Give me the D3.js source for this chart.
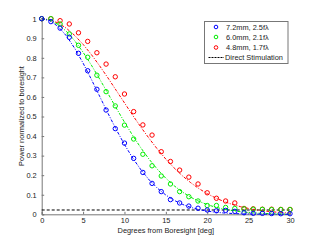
<!DOCTYPE html>
<html><head><meta charset="utf-8">
<script src="https://cdn.jsdelivr.net/npm/d3@7"></script>
<style>body{margin:0;background:#fff}svg{display:block}text{font-family:"Liberation Sans",Arial,sans-serif;font-size:7.4px;fill:#222}</style>
</head><body><svg id="c" width="321" height="241"></svg>
<script>
// measured angles (deg): 28 samples
const angles = [0,1.111,2.222,3.333,4.444,5.556,6.667,7.778,8.889,10,11.111,12.222,13.333,14.444,15.556,16.667,17.778,18.889,20,21.111,22.222,23.333,24.444,25.556,26.667,27.778,28.889,30];
const blue72 = [1.0,0.985,0.952,0.905,0.823,0.734,0.639,0.533,0.438,0.364,0.286,0.214,0.158,0.116,0.075,0.058,0.042,0.031,0.022,0.018,0.020,0.015,0.008,0.005,0.005,0.004,0.003,0.003];
const green60 = [1.0,1.0,0.973,0.922,0.864,0.803,0.711,0.627,0.554,0.456,0.385,0.307,0.248,0.196,0.155,0.116,0.090,0.068,0.045,0.045,0.035,0.030,0.028,0.026,0.025,0.024,0.024,0.024];
const red48 = [1.0,1.0,0.990,0.973,0.928,0.884,0.826,0.768,0.703,0.615,0.525,0.457,0.405,0.320,0.270,0.226,0.190,0.155,0.110,0.082,0.068,0.058,0.030,0.028,0.026,0.026,0.025,0.025];
// fitted curves, read at whole degrees 0..30
const fitDeg = [0,1,2,3,4,5,6,7,8,9,10,11,12,13,14,15,16,17,18,19,20,21,22,23,24,25,26,27,28,29,30];
const fitBlue = [1,0.9897,0.9596,0.9115,0.8479,0.7729,0.6899,0.6034,0.5170,0.4340,0.3567,0.2873,0.2269,0.1753,0.1326,0.0984,0.0714,0.0508,0.0354,0.0242,0.0162,0.0106,0.0068,0.0043,0.0026,0.0016,0.0010,0.0005,0.0003,0.0002,0.0001];
const fitGreen = [1,0.9925,0.9704,0.9346,0.8867,0.8286,0.7628,0.6916,0.6180,0.5438,0.4714,0.4025,0.3385,0.2805,0.2290,0.1842,0.1460,0.1138,0.0874,0.0662,0.0494,0.0363,0.0263,0.0188,0.0132,0.0091,0.0062,0.0042,0.0028,0.0018,0.0012];
const fitRed = [1,0.9944,0.9778,0.9506,0.9140,0.8689,0.8168,0.7589,0.6976,0.6337,0.5698,0.5058,0.4448,0.3866,0.3320,0.2821,0.2370,0.1969,0.1617,0.1312,0.1054,0.0837,0.0657,0.0510,0.0392,0.0298,0.0223,0.0166,0.0122,0.0089,0.0063];
const directLevel = 0.022;
const seriesNames = ["7.2mm, 2.5f\u03bb","6.0mm, 2.1f\u03bb","4.8mm, 1.7f\u03bb"];
const directName = "Direct Stimulation";
const xTicks = [0,5,10,15,20,25,30];
const yTicks = [0,0.1,0.2,0.3,0.4,0.5,0.6,0.7,0.8,0.9,1];
const xLabel = "Degrees from Boresight [deg]";
const yLabel = "Power normalized to boresight";

const colors = ["#0000ff","#00ee00","#ff0000"];
const svg = d3.select("#c");
const x = d3.scaleLinear().domain([0,30]).range([41.7,290]);
const y = d3.scaleLinear().domain([0,1]).range([214.3,18.7]);

// axes
const xa = svg.append("g").attr("transform","translate(0,214.3)")
  .call(d3.axisBottom(x).tickValues(xTicks).tickSize(-2.5).tickPadding(3).tickFormat(d3.format("d")));
const ya = svg.append("g").attr("transform","translate(41.7,0)")
  .call(d3.axisLeft(y).tickValues(yTicks).tickSize(-2.5).tickPadding(5).tickFormat(d=>d===0?"0":d===1?"1":d3.format(".1f")(d)));
[xa,ya].forEach(a=>{a.selectAll("path").attr("stroke","#777").attr("stroke-width",1);
  a.selectAll("line").attr("stroke","#777");
  a.selectAll("text").style("font-size","7.4px").attr("fill","#222");});

// direct stimulation line
svg.append("line").attr("x1",x(0)).attr("x2",x(30)).attr("y1",y(directLevel)).attr("y2",y(directLevel))
  .attr("stroke","#000").attr("stroke-width",1).attr("stroke-dasharray","3,2");

const fits = [fitBlue,fitGreen,fitRed];
const pts = [blue72,green60,red48];
const line = d3.line().x(d=>x(d[0])).y(d=>y(d[1]));
[2,1,0].forEach(i=>{
  svg.append("path").attr("d",line(fitDeg.map((d,k)=>[d,fits[i][k]])))
    .attr("fill","none").attr("stroke",colors[i]).attr("stroke-width",1).attr("stroke-dasharray","3,1.5,1,1.5");
  svg.append("g").selectAll("circle").data(angles.map((a,k)=>[a,pts[i][k]])).join("circle")
    .attr("cx",d=>x(d[0])).attr("cy",d=>y(d[1])).attr("r",2.2)
    .attr("fill","none").attr("stroke",colors[i]).attr("stroke-width",1);
});

// labels
svg.append("text").attr("x",(x(0)+x(30))/2).attr("y",233).attr("text-anchor","middle").text(xLabel);
svg.append("text").attr("transform","translate(24,116) rotate(-90)").attr("text-anchor","middle").text(yLabel);

// legend
const lg = svg.append("g");
lg.append("rect").attr("x",204.5).attr("y",21.5).attr("width",83.5).attr("height",42)
  .attr("fill","#fff").attr("stroke","#777").attr("stroke-width",1);
const rows = [27,37,47.5,57.5];
seriesNames.forEach((n,i)=>{
  lg.append("circle").attr("cx",216).attr("cy",rows[i]).attr("r",1.8).attr("fill","none").attr("stroke",colors[i]).attr("stroke-width",1);
  lg.append("text").attr("x",226).attr("y",rows[i]+2.6).text(n);
});
lg.append("line").attr("x1",208.5).attr("x2",224).attr("y1",rows[3]).attr("y2",rows[3]).attr("stroke","#000").attr("stroke-dasharray","2,1");
lg.append("text").attr("x",225).attr("y",rows[3]+2.6).text(directName);
</script></body></html>
